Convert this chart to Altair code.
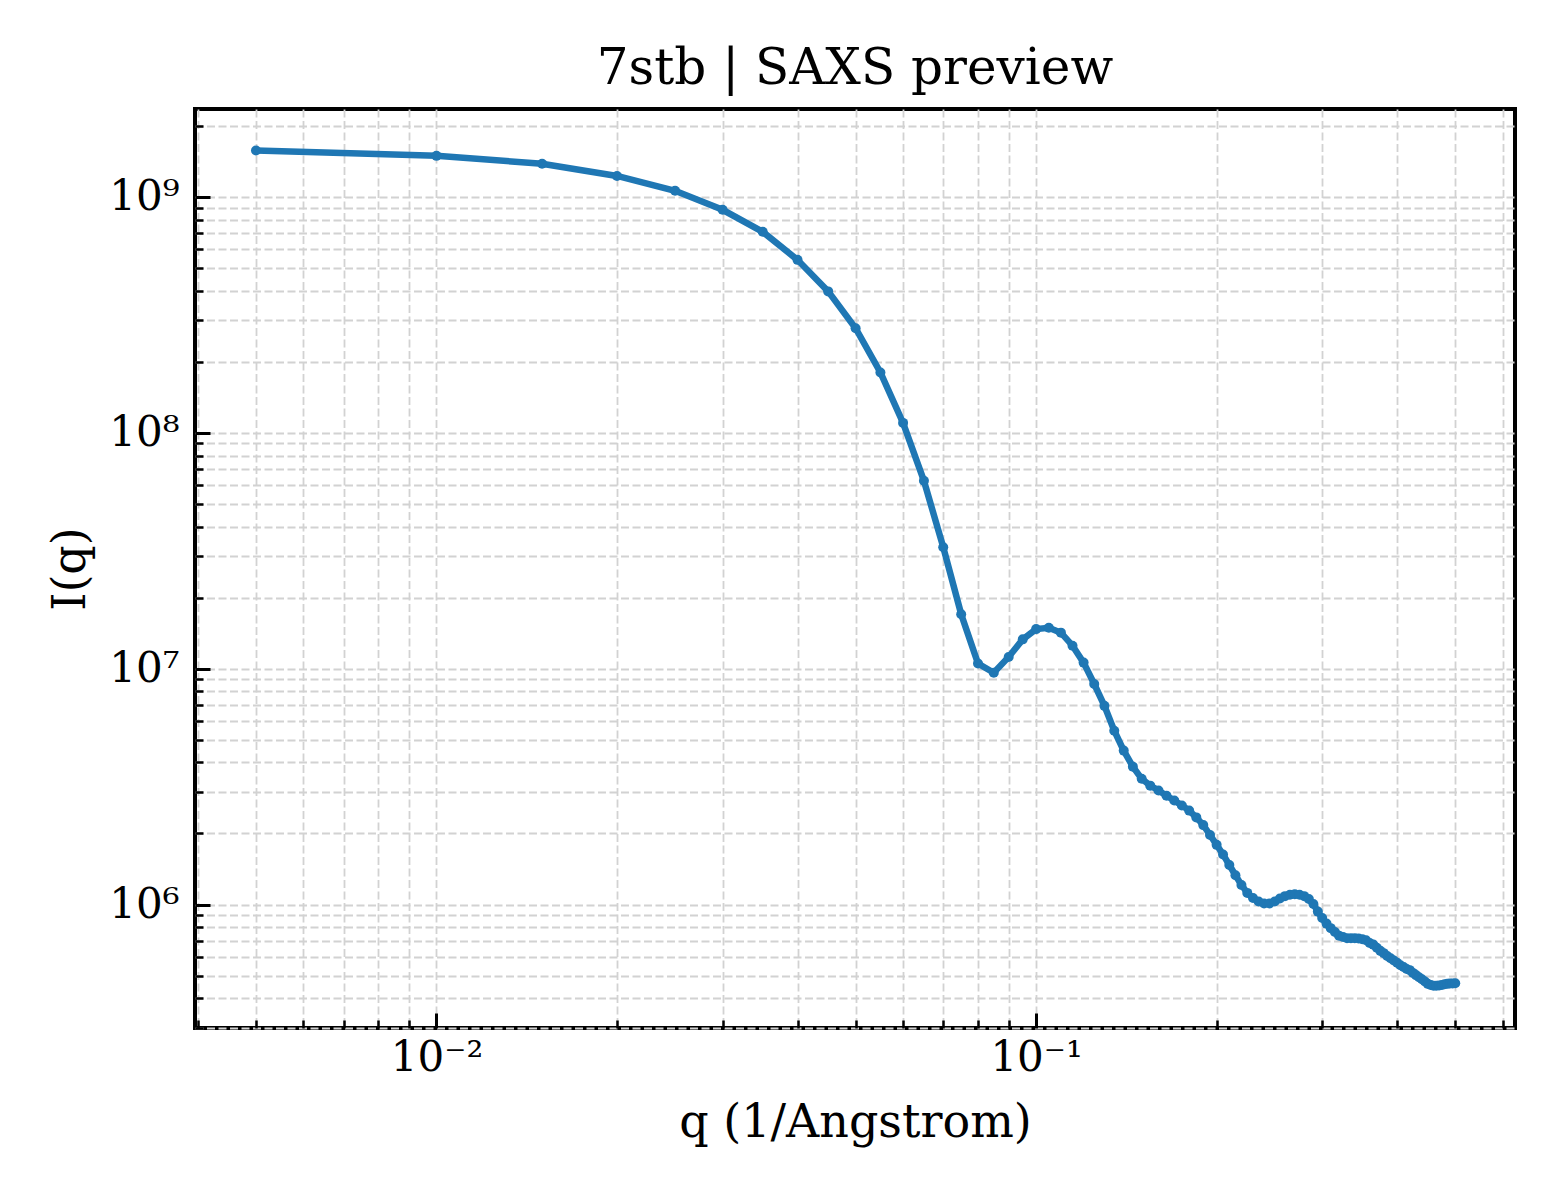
import altair as alt
import pandas as pd

FONT = "DejaVu Serif"
BLUE = "#1f77b4"

q = [
    0.005, 0.010, 0.015, 0.020, 0.025, 0.030, 0.035, 0.040, 0.045, 0.050,
    0.055, 0.060, 0.065, 0.070, 0.075, 0.080, 0.085, 0.090, 0.095, 0.100,
    0.105, 0.110, 0.115, 0.120, 0.125, 0.130, 0.135, 0.140, 0.145, 0.150,
    0.155, 0.160, 0.165, 0.170, 0.175, 0.180, 0.185, 0.190, 0.195, 0.200,
    0.205, 0.210, 0.215, 0.220, 0.225, 0.230, 0.235, 0.240, 0.245, 0.250,
    0.255, 0.260, 0.265, 0.270, 0.275, 0.280, 0.285, 0.290, 0.295, 0.300,
    0.305, 0.310, 0.315, 0.320, 0.325, 0.330, 0.335, 0.340, 0.345, 0.350,
    0.355, 0.360, 0.365, 0.370, 0.375, 0.380, 0.385, 0.390, 0.395, 0.400,
    0.405, 0.410, 0.415, 0.420, 0.425, 0.430, 0.435, 0.440, 0.445, 0.450,
    0.455, 0.460, 0.465, 0.470, 0.475, 0.480, 0.485, 0.490, 0.495, 0.500,
]
intensity = [
    1.57e9, 1.49e9, 1.38e9, 1.225e9, 1.06e9, 8.8e8, 7.1e8, 5.4e8, 3.97e8, 2.77e8,
    1.80e8, 1.10e8, 6.25e7, 3.27e7, 1.70e7, 1.05e7, 9.6e6, 1.12e7, 1.33e7, 1.47e7,
    1.49e7, 1.42e7, 1.25e7, 1.06e7, 8.6e6, 6.95e6, 5.45e6, 4.49e6, 3.84e6, 3.41e6,
    3.19e6, 3.04e6, 2.89e6, 2.76e6, 2.63e6, 2.50e6, 2.34e6, 2.17e6, 1.97e6, 1.79e6,
    1.63e6, 1.47e6, 1.33e6, 1.21e6, 1.12e6, 1.065e6, 1.03e6, 1.01e6, 1.01e6, 1.03e6,
    1.06e6, 1.085e6, 1.10e6, 1.105e6, 1.10e6, 1.085e6, 1.055e6, 1.005e6, 9.33e5, 8.76e5,
    8.30e5, 7.94e5, 7.64e5, 7.38e5, 7.28e5, 7.2e5, 7.2e5, 7.2e5, 7.18e5, 7.12e5,
    7.06e5, 6.87e5, 6.76e5, 6.56e5, 6.36e5, 6.22e5, 6.05e5, 5.92e5, 5.79e5, 5.66e5,
    5.53e5, 5.43e5, 5.33e5, 5.27e5, 5.13e5, 5.02e5, 4.92e5, 4.82e5, 4.72e5, 4.61e5,
    4.56e5, 4.53e5, 4.53e5, 4.54e5, 4.56e5, 4.59e5, 4.61e5, 4.63e5, 4.63e5, 4.64e5,
]

x_major = [0.01, 0.1]
x_minor = [0.004, 0.005, 0.006, 0.007, 0.008, 0.009,
           0.02, 0.03, 0.04, 0.05, 0.06, 0.07, 0.08, 0.09,
           0.2, 0.3, 0.4, 0.5, 0.6]
y_major = [1e6, 1e7, 1e8, 1e9]
y_minor = [3e5, 4e5, 5e5, 6e5, 7e5, 8e5, 9e5,
           2e6, 3e6, 4e6, 5e6, 6e6, 7e6, 8e6, 9e6,
           2e7, 3e7, 4e7, 5e7, 6e7, 7e7, 8e7, 9e7,
           2e8, 3e8, 4e8, 5e8, 6e8, 7e8, 8e8, 9e8, 2e9]
x_labels = {0.01: "10⁻²", 0.1: "10⁻¹"}
y_labels = {1e6: "10⁶", 1e7: "10⁷", 1e8: "10⁸", 1e9: "10⁹"}

x_domain = [0.003956, 0.629]
y_domain = [2.996e5, 2.354e9]

df = pd.DataFrame({"q": q, "I": intensity})


def label_expr(labels):
    # nested ternary picking the decade label closest to datum.value
    keys = sorted(labels)
    expr = f"'{labels[keys[-1]]}'"
    for k in reversed(keys[:-1]):
        expr = f"datum.value < {k * 3.16:g} ? '{labels[k]}' : {expr}"
    return expr


def grid_axis(orient, values):
    return alt.Axis(orient=orient, values=values, grid=True, gridColor="#d2d2d2",
                    gridDash=[8, 3.5], gridWidth=1.8, ticks=False, labels=False,
                    domain=False, title=None)


def minor_axis(orient, values):
    return alt.Axis(orient=orient, values=values, grid=False, ticks=True, tickSize=8,
                    tickWidth=2.5, tickColor="black", offset=-8, labels=False,
                    domain=False, title=None)


def major_axis(orient, values, labels, title, pad, title_pad):
    return alt.Axis(orient=orient, values=values, grid=False, ticks=True, tickSize=15,
                    tickWidth=3, tickColor="black", offset=-15, domain=False,
                    labelExpr=label_expr(labels), labelFont=FONT, labelFontSize=42,
                    labelColor="black", labelPadding=pad, labelFlush=False,
                    labelOverlap=False, title=title, titleFont=FONT, titleFontSize=46,
                    titleFontWeight="normal", titleColor="black", titlePadding=title_pad)


def enc(xaxis, yaxis):
    return dict(
        x=alt.X("q:Q", scale=alt.Scale(type="log", domain=x_domain, nice=False), axis=xaxis),
        y=alt.Y("I:Q", scale=alt.Scale(type="log", domain=y_domain, nice=False), axis=yaxis),
    )


line = alt.Chart(df).mark_line(color=BLUE, strokeWidth=6.5).encode(
    **enc(grid_axis("bottom", x_minor + x_major), grid_axis("left", y_minor + y_major))
)
points = alt.Chart(df).mark_circle(color=BLUE, size=100, opacity=1).encode(
    **enc(minor_axis("bottom", x_minor), minor_axis("left", y_minor))
)
frame = alt.Chart(df).mark_circle(opacity=0).encode(
    **enc(major_axis("bottom", x_major, x_labels, "q (1/Angstrom)", 9, 22),
          major_axis("left", y_major, y_labels, "I(q)", 16, 14))
)

chart = (
    alt.layer(line, points, frame)
    .resolve_axis(x="independent", y="independent")
    .properties(
        width=1320,
        height=919,
        autosize=alt.AutoSizeParams(type="none"),
        padding={"left": 187, "top": 101, "right": 37, "bottom": 165},
        title=alt.Title("7stb | SAXS preview", font=FONT, fontSize=50,
                        fontWeight="normal", color="black", offset=16, dy=51,
                        baseline="bottom", anchor="middle"),
    )
    .configure_view(stroke="black", strokeWidth=4)
)

chart.save("out.html", embed_options={"renderer": "svg", "actions": False})
